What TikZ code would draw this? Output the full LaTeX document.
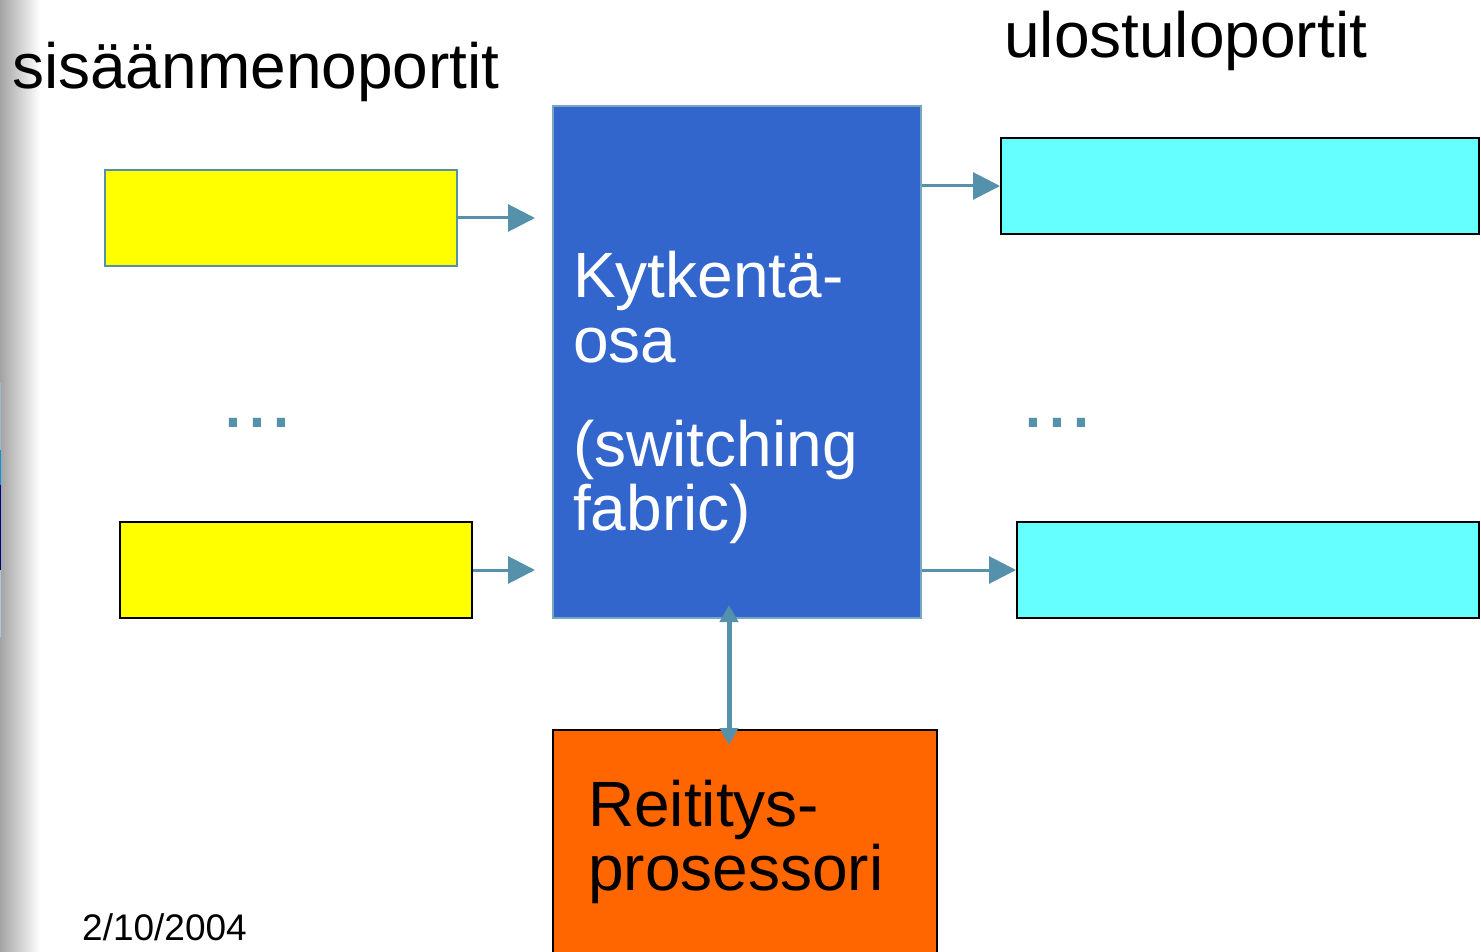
\documentclass[tikz,border=0pt]{standalone}
\usepackage{fontspec}
\setmainfont{Liberation Sans}
\usetikzlibrary{arrows.meta}

\definecolor{steel}{HTML}{5591AB}
\definecolor{fabricblue}{HTML}{3366CC}
\definecolor{portyellow}{HTML}{FFFF00}
\definecolor{portcyan}{HTML}{66FFFF}
\definecolor{procorange}{HTML}{FF6600}

\tikzset{
  portbox/.style={draw=black, line width=2pt, inner sep=0pt},
  label64/.style={anchor=base west, inner sep=0pt, font=\fontsize{64}{64}\selectfont},
  flow/.style={draw=steel, line width=3pt, -{Triangle[length=27pt,width=27pt]}},
  ctrl/.style={draw=steel, line width=5pt,
    {Triangle[length=17pt,width=18pt]}-{Triangle[length=17pt,width=18pt]}},
  dots/.style={anchor=base west, inner sep=0pt, text=steel,
    font=\fontsize{86}{86}\selectfont},
}

\begin{document}
\begin{tikzpicture}[x=1pt, y=-1pt]
  \clip (0,0) rectangle (1481,952);
  \fill[white] (0,0) rectangle (1481,952);

  % shaded page edge on the left
  \shade[left color=black!36, right color=white] (0,0) rectangle (40,952);
  \fill[steel!60] (0,383) rectangle (1.4,450);
  \fill[cyan!80!blue] (0,450) rectangle (1.4,485);
  \fill[blue!50!black] (0,485) rectangle (1.4,570);
  \fill[steel!50] (0,570) rectangle (1.4,637);

  % headings
  \node[label64] (inhead) at (12,89) {sisäänmenoportit};
  \node[label64] (outhead) at (1004,58) {ulostuloportit};

  % input ports
  \node[portbox, draw=steel, fill=portyellow, minimum width=352pt, minimum height=96pt]
    (in1) at (281,218) {};
  \node[portbox, fill=portyellow, minimum width=352pt, minimum height=96pt]
    (in2) at (296,570) {};

  % switching fabric
  \node[portbox, draw=steel!80!white, fill=fabricblue, minimum width=368pt, minimum height=512pt]
    (fabric) at (737,362) {};
  \node[label64, text=white] (ft1) at (573,298) {Kytkentä-};
  \node[label64, text=white] (ft2) at (573,362) {osa};
  \node[label64, text=white] (ft3) at (573,466) {(switching};
  \node[label64, text=white] (ft4) at (573,530) {fabric)};

  % output ports
  \node[portbox, fill=portcyan, minimum width=478pt, minimum height=96pt]
    (out1) at (1240,186) {};
  \node[portbox, fill=portcyan, minimum width=462pt, minimum height=96pt]
    (out2) at (1248,570) {};

  % routing processor
  \node[portbox, fill=procorange, minimum width=384pt, minimum height=260pt]
    (proc) at (745,860) {};
  \node[label64] (pt1) at (588,826) {Reititys-};
  \node[label64] (pt2) at (588,890) {prosessori};

  % ellipses between the ports
  \node[dots] (indots) at (221,427) {...};
  \node[dots] (outdots) at (1021,427) {...};

  % data flow
  \draw[flow, shorten >=17pt] (in1.east) -- (in1.east -| fabric.west);
  \draw[flow, shorten >=17pt] (in2.east) -- (in2.east -| fabric.west);
  \draw[flow] (out1.west -| fabric.east) -- (out1.west);
  \draw[flow] (out2.west -| fabric.east) -- (out2.west);

  % control link between fabric and routing processor
  \coordinate (ctrltop) at ([xshift=-8pt]fabric.south);
  \coordinate (ctrlbot) at ([xshift=-16pt]proc.north);
  \draw[ctrl, shorten <=-14pt, shorten >=-16pt] (ctrltop) -- (ctrlbot);

  % date
  \node[anchor=base west, inner sep=0pt, font=\fontsize{37}{37}\selectfont]
    (date) at (82,940) {2/10/2004};
\end{tikzpicture}
\end{document}
